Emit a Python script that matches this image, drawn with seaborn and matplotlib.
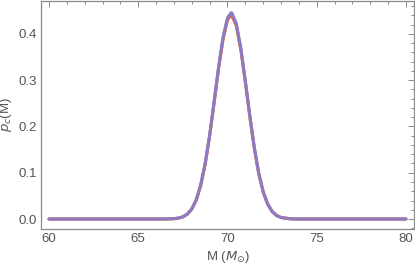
import numpy as np
import pandas as pd
import matplotlib
matplotlib.use("Agg")
import matplotlib.pyplot as plt
from matplotlib.ticker import MultipleLocator
import seaborn as sns

# values (mass in solar masses, density)
mass = [60.0, 66.0, 66.5, 67.0, 67.25, 67.5, 67.75, 68.0, 68.25, 68.5, 68.75,
        69.0, 69.25, 69.5, 69.75, 70.0, 70.2, 70.25, 70.5, 70.75, 71.0, 71.25,
        71.5, 71.75, 72.0, 72.25, 72.5, 72.75, 73.0, 73.5, 74.0, 80.0]
p_beige = [0.0, 0.0, 0.0001, 0.0007, 0.002, 0.0047, 0.0104, 0.0216, 0.0411, 0.0727, 0.119,
           0.1797, 0.2513, 0.3252, 0.3891, 0.4306, 0.4415, 0.4408, 0.4175, 0.3655, 0.2961, 0.2219,
           0.1537, 0.0986, 0.0584, 0.0321, 0.0162, 0.0076, 0.0033, 0.0005, 0.0, 0.0]
p_red = [0.0, 0.0, 0.0001, 0.0007, 0.002, 0.0046, 0.0103, 0.0214, 0.0408, 0.0723, 0.1183,
         0.1789, 0.2505, 0.3245, 0.3884, 0.4302, 0.4405, 0.4402, 0.4172, 0.3656, 0.2964, 0.2224,
         0.1542, 0.0990, 0.0587, 0.0323, 0.0163, 0.0077, 0.0033, 0.0005, 0.0, 0.0]
p_purple = [0.0, 0.0, 0.0001, 0.0007, 0.002, 0.0047, 0.0105, 0.0218, 0.0415, 0.0734, 0.120,
            0.1814, 0.2537, 0.3283, 0.3928, 0.4347, 0.4457, 0.4450, 0.4214, 0.369, 0.2989, 0.224,
            0.1552, 0.0995, 0.059, 0.0324, 0.0164, 0.0077, 0.0033, 0.0005, 0.0, 0.0]

series = ["beige", "red", "purple"]
colors = ["#e9c9a1", "#e8632f", "#8b7bc4"]

df = pd.concat([
    pd.DataFrame({"M": mass, "p": p_beige, "s": "beige"}),
    pd.DataFrame({"M": mass, "p": p_red, "s": "red"}),
    pd.DataFrame({"M": mass, "p": p_purple, "s": "purple"}),
])

sns.set_style("white")
plt.rcParams["font.family"] = ["Liberation Sans", "DejaVu Sans"]
plt.rcParams["mathtext.fontset"] = "dejavusans"

fig = plt.figure(figsize=(4.15, 2.7), dpi=100)
ax = fig.add_axes([0.0995, 0.152, 0.8981, 0.844])

sns.lineplot(data=df, x="M", y="p", hue="s", hue_order=series,
             palette=dict(zip(series, colors)), linewidth=2.2, legend=False, ax=ax)

ax.set_xlim(59.57, 80.45)
ax.set_ylim(-0.0215, 0.471)
ax.xaxis.set_major_locator(MultipleLocator(5))
ax.xaxis.set_minor_locator(MultipleLocator(1))
ax.yaxis.set_major_locator(MultipleLocator(0.1))
ax.yaxis.set_minor_locator(MultipleLocator(0.02))
ax.set_yticks([0.0, 0.1, 0.2, 0.3, 0.4])
ax.set_yticklabels(["0.0", "0.1", "0.2", "0.3", "0.4"])

gray = "#8a8a8a"
for sp in ax.spines.values():
    sp.set_color(gray)
    sp.set_linewidth(0.9)
ax.tick_params(which="both", direction="in", top=True, right=True, color=gray,
               labelcolor="#555555", labelsize=9.5, width=0.7, pad=3)
ax.tick_params(which="major", length=4)
ax.tick_params(which="minor", length=2.2)

ax.set_xlabel(r"M ($M_{\odot}$)", color="#555555", fontsize=9.5, labelpad=3)
ax.set_ylabel(r"$p_c$(M)", color="#555555", fontsize=9.5, labelpad=3)

fig.savefig("out.png", dpi=100)
